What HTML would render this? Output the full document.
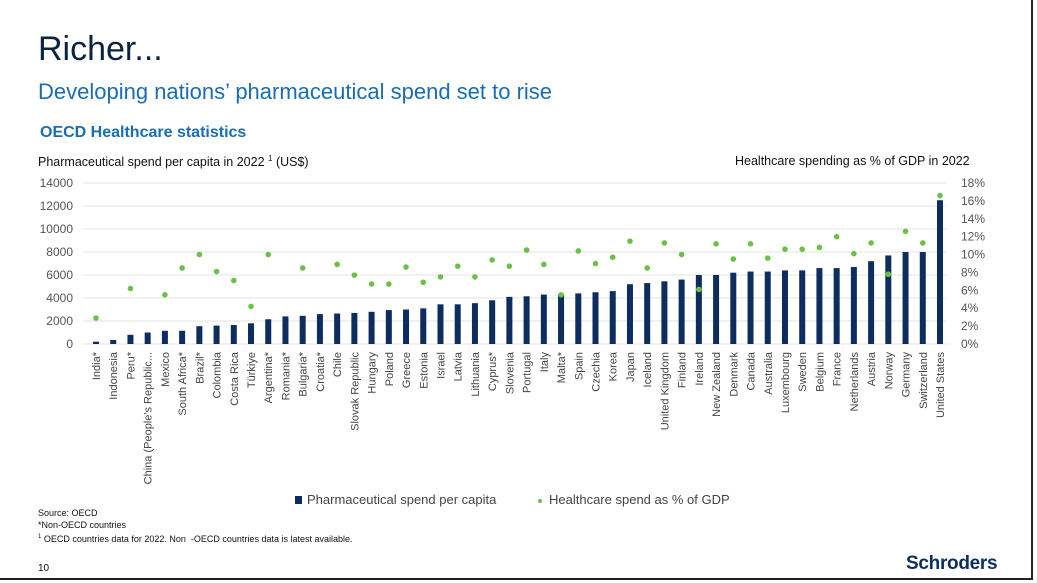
<!DOCTYPE html>
<html><head><meta charset="utf-8">
<style>
body{margin:0;width:1037px;height:583px;background:#fff;font-family:"Liberation Sans",sans-serif;position:relative;overflow:hidden}
.t{position:absolute;white-space:nowrap}
</style></head><body>
<div style="position:absolute;left:0;top:0;width:1031px;height:578px;border-right:2px solid #222;border-bottom:2px solid #222"></div>
<div class="t" style="left:38px;top:30px;font-size:34px;color:#0c2340">Richer...</div>
<div class="t" style="left:38px;top:79px;font-size:22px;color:#1a6db3">Developing nations’ pharmaceutical spend set to rise</div>
<div class="t" style="left:40px;top:124px;font-size:16px;font-weight:bold;color:#1a6db3">OECD Healthcare statistics</div>
<div class="t" style="left:38px;top:154px;font-size:12.5px;color:#111">Pharmaceutical spend per capita in 2022 <sup style="font-size:8px">1</sup> (US$)</div>
<div class="t" style="left:735px;top:154px;font-size:12.5px;color:#111">Healthcare spending as % of GDP in 2022</div>
<svg id="chart" width="1037" height="520" style="position:absolute;left:0;top:0"></svg>
<div class="t" style="left:295px;top:492px;font-size:13px;color:#444"><span style="display:inline-block;width:7px;height:8px;background:#0c2d5e;margin-right:5px"></span>Pharmaceutical spend per capita</div>
<div class="t" style="left:538px;top:492px;font-size:13px;color:#444"><span style="display:inline-block;width:4px;height:4px;border-radius:50%;background:#6cc04a;margin-right:7px;vertical-align:middle"></span>Healthcare spend as % of GDP</div>
<div class="t" style="left:38px;top:507px;font-size:9px;line-height:12px;color:#111">Source: OECD<br>*Non-OECD countries<br><sup style="font-size:6px">1</sup> OECD countries data for 2022. Non &nbsp;-OECD countries data is latest available.</div>
<div class="t" style="left:38px;top:563px;font-size:10px;color:#111">10</div>
<div class="t" style="left:906px;top:553px;font-size:19px;font-weight:bold;color:#0c2d5e;letter-spacing:-0.3px">Schroders</div>
<script>
const categories=["India*","Indonesia","Peru*","China (People's Republic...","Mexico","South Africa*","Brazil*","Colombia","Costa Rica","Türkiye","Argentina*","Romania*","Bulgaria*","Croatia*","Chile","Slovak Republic","Hungary","Poland","Greece","Estonia","Israel","Latvia","Lithuania","Cyprus*","Slovenia","Portugal","Italy","Malta*","Spain","Czechia","Korea","Japan","Iceland","United Kingdom","Finland","Ireland","New Zealand","Denmark","Canada","Australia","Luxembourg","Sweden","Belgium","France","Netherlands","Austria","Norway","Germany","Switzerland","United States"];
const pharmaSpend=[200,350,800,1000,1150,1150,1550,1600,1650,1800,2150,2400,2450,2600,2650,2700,2800,2950,3000,3100,3450,3450,3550,3800,4100,4150,4300,4300,4400,4500,4600,5200,5300,5450,5600,6000,6000,6200,6300,6300,6400,6400,6600,6600,6700,7200,7700,8000,8000,12500];
const gdpShare=[2.9,null,6.2,null,5.5,8.5,10.0,8.1,7.1,4.2,10.0,null,8.5,null,8.9,7.7,6.7,6.7,8.6,6.9,7.5,8.7,7.5,9.4,8.7,10.5,8.9,5.5,10.4,9.0,9.7,11.5,8.5,11.3,10.0,6.1,11.2,9.5,11.2,9.6,10.6,10.6,10.8,12.0,10.1,11.3,7.8,12.6,11.3,16.6];
const leftTicks=[0,2000,4000,6000,8000,10000,12000,14000];
const rightTicks=[0,2,4,6,8,10,12,14,16,18];
const svg=document.getElementById('chart');const NS='http://www.w3.org/2000/svg';
const X0=96,X1=940,Y0=344,Y1=183;
const xPos=i=>X0+i*(X1-X0)/(categories.length-1);
const yL=v=>Y0-(v/14000)*(Y0-Y1);
const yR=v=>Y0-(v/18)*(Y0-Y1);
function mk(t,a){const e=document.createElementNS(NS,t);for(const k in a)e.setAttribute(k,a[k]);svg.appendChild(e);return e;}
leftTicks.forEach(v=>{const g=mk('line',{x1:83,x2:947,y1:yL(v),y2:yL(v),stroke:'#e3e3e3','stroke-width':1});


const t=mk('text',{x:73,y:yL(v)+4,'text-anchor':'end','font-size':12,fill:'#555','font-family':'Liberation Sans'});t.textContent=v;

});
rightTicks.forEach(v=>{const t=mk('text',{x:961,y:yR(v)+4,'font-size':12,fill:'#555','font-family':'Liberation Sans'});t.textContent=v+'%';

});
categories.forEach((c,i)=>{const x=xPos(i);
const b=mk('rect',{x:x-3,y:yL(pharmaSpend[i]),width:6,height:Y0-yL(pharmaSpend[i]),fill:'#0c2d5e'});


const t=mk('text',{x:0,y:0,transform:`translate(${x+4},352) rotate(-90)`,'text-anchor':'end','font-size':11,fill:'#444','font-family':'Liberation Sans'});t.textContent=c;

});
categories.forEach((c,i)=>{if(gdpShare[i]==null)return;
const d=mk('circle',{cx:xPos(i),cy:yR(gdpShare[i]),r:2.8,fill:'#6cc04a'});

});
</script>
</body></html>
